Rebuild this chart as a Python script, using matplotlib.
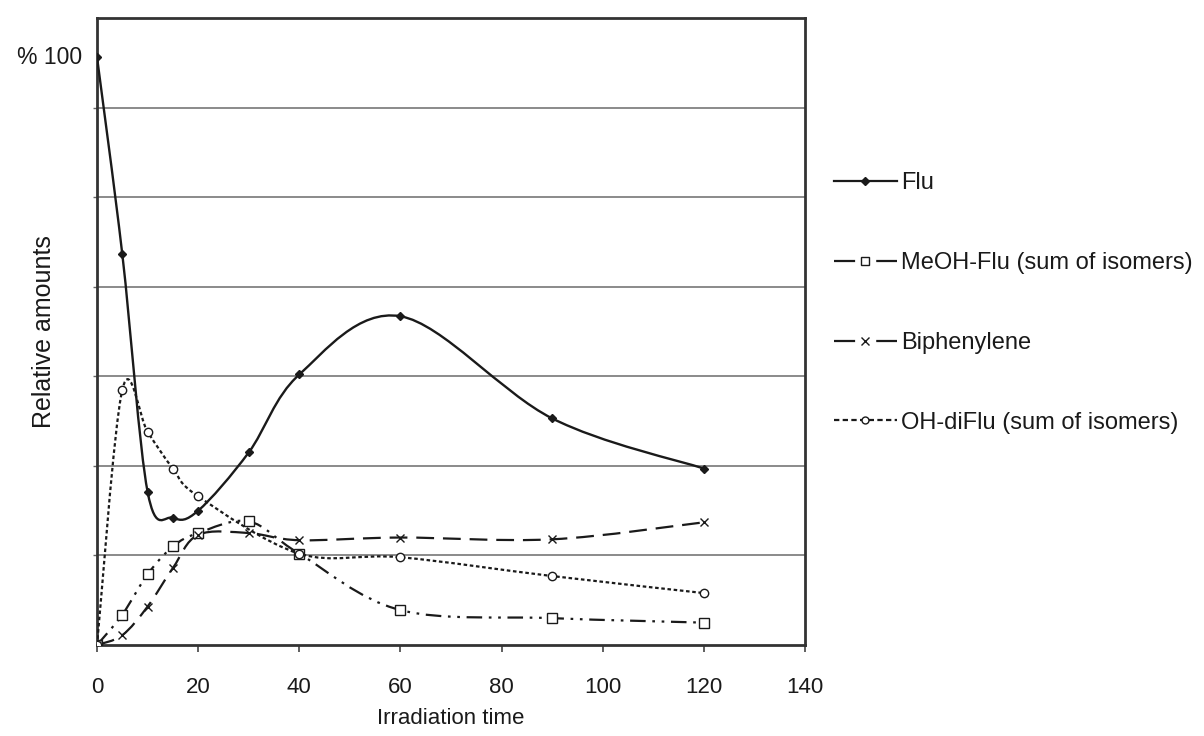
import matplotlib
matplotlib.use('Agg')
import matplotlib.pyplot as plt
from matplotlib.path import Path
from matplotlib.patches import PathPatch
from matplotlib.lines import Line2D
import numpy as np

plt.rcParams['font.family'] = ['Liberation Sans', 'DejaVu Sans']

# values (y in grid units, top gridline = 6)
flu_x = [0, 5, 10, 15, 20, 30, 40, 60, 90, 120]
flu_y = [6.56, 4.36, 1.71, 1.42, 1.50, 2.15, 3.02, 3.67, 2.53, 1.97]

meoh_x = [0, 5, 10, 15, 20, 30, 40, 60, 90, 120]
meoh_y = [0.0, 0.34, 0.79, 1.10, 1.25, 1.38, 1.02, 0.39, 0.30, 0.25]

biph_x = [0, 5, 10, 15, 20, 30, 40, 60, 90, 120]
biph_y = [0.0, 0.11, 0.43, 0.86, 1.23, 1.25, 1.17, 1.20, 1.18, 1.37]

ohdi_x = [0, 5, 10, 15, 20, 40, 60, 90, 120]
ohdi_y = [0.0, 2.85, 2.38, 1.97, 1.66, 1.02, 0.98, 0.77, 0.58]

labels = ['Flu', 'MeOH-Flu (sum of isomers)', 'Biphenylene', 'OH-diFlu (sum of isomers)']
xticks = [0, 20, 40, 60, 80, 100, 120, 140]

INK = '#1a1a1a'


def smoothPath(xs, ys):
    # Excel-style smoothed line: cubic bezier through every point
    p = np.column_stack([xs, ys]).astype(float)
    n = len(p)
    verts = [p[0]]
    codes = [Path.MOVETO]
    for i in range(n - 1):
        p0 = p[i - 1] if i > 0 else p[i]
        p3 = p[i + 2] if i + 2 < n else p[i + 1]
        c1 = p[i] + (p[i + 1] - p0) / 6.0
        c2 = p[i + 1] - (p3 - p[i]) / 6.0
        verts += [c1, c2, p[i + 1]]
        codes += [Path.CURVE4] * 3
    return Path(verts, codes)


def drawSeries(ax, xs, ys, ls, marker, ms, mfc, lw=1.6):
    ax.add_patch(PathPatch(smoothPath(xs, ys), fill=False, edgecolor=INK,
                           linewidth=lw, linestyle=ls, zorder=3))
    ax.plot(xs, ys, linestyle='none', marker=marker, markersize=ms,
            markerfacecolor=mfc, markeredgecolor=INK, markeredgewidth=1.0, zorder=4)


fig = plt.figure(figsize=(12.04, 7.36), dpi=100)
ax = fig.add_axes([0.0806, 0.1236, 0.588, 0.852])

ax.set_xlim(0, 140)
ax.set_ylim(0, 7)
for g in range(1, 7):
    ax.axhline(g, color='#8a8a8a', linewidth=1.4, zorder=1)

drawSeries(ax, flu_x, flu_y, '-', 'D', 4.5, INK, lw=1.7)
drawSeries(ax, meoh_x, meoh_y, (0, (7, 3, 1.2, 3, 1.2, 3)), 's', 7, 'white')
drawSeries(ax, biph_x, biph_y, (0, (8, 4)), 'x', 6, 'none')
drawSeries(ax, ohdi_x, ohdi_y, (0, (1.6, 1.2)), 'o', 6, 'white')

ax.annotate('% 100', xy=(0, flu_y[0]), xytext=(-11, 0), textcoords='offset points',
            ha='right', va='center', fontsize=16.5, color=INK)

ax.set_xticks(xticks)
ax.set_xticklabels([str(t) for t in xticks], fontsize=16, color=INK)
ax.set_yticks(range(1, 7))
ax.set_yticklabels([])
ax.tick_params(axis='x', direction='out', length=5, width=1.2, pad=18, color='#444444')
ax.tick_params(axis='y', direction='out', length=3, width=1.0, color='#666666')

for s in ax.spines.values():
    s.set_linewidth(2.0)
    s.set_color('#333333')

ax.set_xlabel('Irradiation time', fontsize=16, labelpad=7, color=INK)
ax.set_ylabel('Relative amounts', fontsize=18, labelpad=23, color=INK)

handles = [
    Line2D([], [], color=INK, lw=1.6, marker='D', ms=4.5, mfc=INK, mec=INK),
    Line2D([], [], color=INK, lw=1.6, linestyle=(0, (9.5, 9.5)), marker='s', ms=6, mfc='white', mec=INK),
    Line2D([], [], color=INK, lw=1.6, linestyle=(0, (9.5, 9.5)), marker='x', ms=6, mec=INK),
    Line2D([], [], color=INK, lw=1.6, linestyle=(0, (2.4, 1.5)), marker='o', ms=5, mfc='white', mec=INK),
]
fig.legend(handles, labels, loc='upper left', bbox_to_anchor=(0.675, 0.795),
           frameon=False, fontsize=17, handlelength=2.65, handletextpad=0.2,
           labelspacing=2.45, numpoints=1, labelcolor=INK)

fig.savefig('out.png', dpi=100)
